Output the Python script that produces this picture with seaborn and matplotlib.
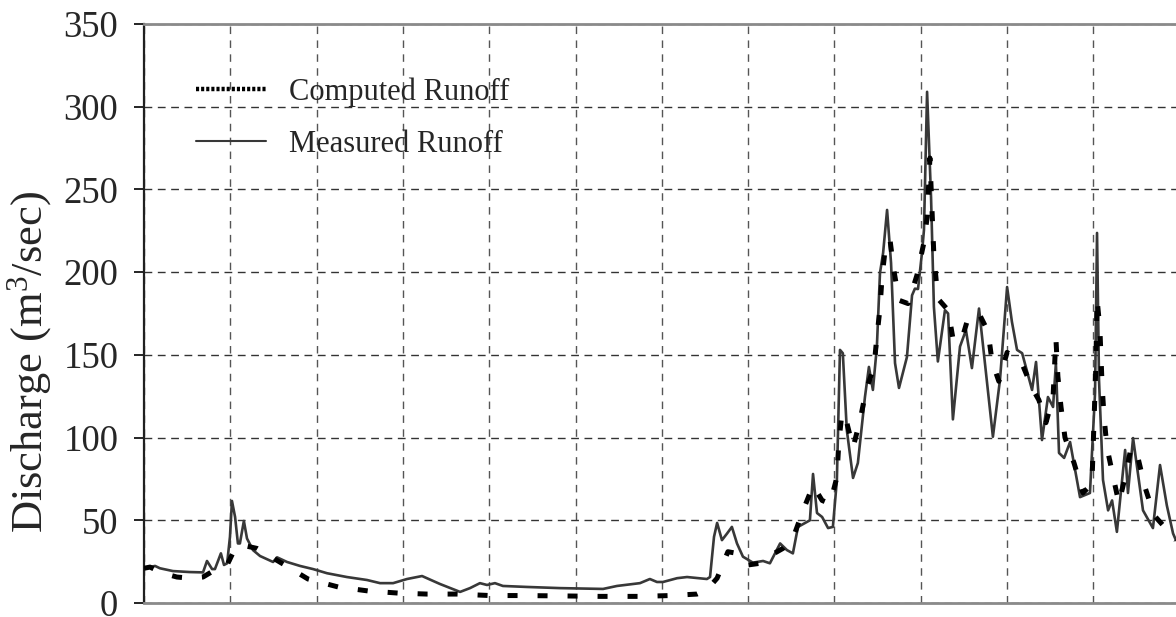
import numpy as np
import pandas as pd
import matplotlib
matplotlib.use("Agg")
import matplotlib.pyplot as plt
from matplotlib.lines import Line2D
import seaborn as sns

# Daily discharge over one hydrological year (day index, m^3/s)
measured_day = [0, 3.9, 5.6, 10.2, 16.2, 20.8, 22.2, 24.0, 25.0, 27.1, 28.2, 29.3, 30.3, 31.0,
                32.1, 33.1, 33.8, 35.2, 36.3, 38.4, 40.9, 45.5, 46.9, 50.4, 55.0, 59.6, 64.5,
                71.5, 78.6, 83.2, 87.8, 92.7, 98.0, 104.3, 111.4, 114.9, 118.4, 120.9, 123.7,
                126.5, 135.0, 146.6, 161.8, 166.7, 174.8, 178.3, 180.8, 182.9, 187.9, 191.4,
                198.4, 199.5, 200.9, 202.0, 203.7, 205.5, 207.2, 209.0, 211.1, 214.6, 218.2,
                220.6, 224.2, 226.6, 228.7, 230.5, 233.7, 234.7, 235.8, 237.2, 239.0, 241.1,
                242.8, 244.2, 245.3, 246.3, 247.7, 249.9, 251.6, 254.1, 255.5, 256.9, 258.3,
                259.4, 260.5, 261.9, 263.3, 264.7, 266.1, 268.9, 270.7, 271.7, 272.8, 274.2,
                274.9, 276.0, 277.4, 278.4, 279.8, 282.3, 283.4, 285.1, 287.6, 289.7, 291.8,
                294.3, 299.2, 301.7, 304.2, 305.9, 307.7, 309.5, 313.0, 314.4, 316.5, 318.6,
                320.4, 321.4, 322.5, 324.3, 326.4, 329.9, 333.4, 335.2, 335.9, 336.6, 338.0,
                339.8, 341.2, 342.9, 345.8, 346.8, 348.6, 352.1, 355.6, 358.1, 360.5, 362.7,
                363.7]
measured_q = [21, 22.4, 21, 19.3, 18.7, 18.5, 25.4, 20.5, 20.5, 30, 23, 24, 40, 61.7,
              52, 36, 36, 49.6, 39, 32, 28.4, 24.8, 27.6, 24.8, 22.4, 20.5, 18,
              15.7, 13.9, 12, 12, 14.5, 16.3, 11.5, 6.7, 9, 12, 10.9, 12,
              10.3, 9.7, 9, 8.5, 10.3, 12, 14.5, 12.7, 12.7, 15, 15.7,
              14.5, 15.7, 40, 48.4, 38, 42, 46, 36, 28, 24.4, 25.4,
              24, 36, 32, 30, 46, 49, 50, 78, 54.4, 52, 45.3,
              46, 74, 153, 151, 104.6, 75.6, 84.6, 124.5, 142.7, 128.8, 154.8,
              199.5, 211.6, 237.6, 205.5, 145, 130, 148.7, 186, 190, 189.8, 211.6,
              225.5, 309, 245, 179, 146, 177, 175, 111, 155, 165, 142,
              178, 100.5, 135, 191, 170, 153, 151, 128.8, 145.7, 98.5, 124.5,
              118.5, 145, 90.7, 87.7, 97.3, 64, 66.5, 127, 223.7, 134.8, 74.4,
              56, 62, 43, 92.5, 66.5, 99.7, 56, 45.3, 83.4, 59, 42,
              38]

computed_day = [0, 2.1, 6.7, 11.6, 16.2, 20.8, 25.0, 29.3, 32.1, 34.5, 39.8, 48.6, 57.8,
                68.4, 78.9, 89.5, 99.7, 110.3, 122.0, 132.5, 146.6, 160.7, 174.8, 185.4,
                194.9, 198.4, 202.0, 205.8, 209.0, 212.9, 217.1, 221.7, 225.2, 228.7,
                232.3, 235.8, 239.0, 241.8, 244.2, 244.9, 246.0, 247.7, 249.9, 252.4,
                254.5, 257.3, 258.3, 259.4, 260.1, 261.2, 262.9, 264.3, 266.1, 269.3,
                272.4, 274.9, 276.0, 277.0, 277.7, 278.4, 279.8, 283.4, 285.1, 288.0,
                290.4, 294.3, 297.5, 298.9, 301.3, 304.2, 309.5, 313.0, 315.4, 317.9,
                320.4, 321.4, 322.1, 323.2, 324.6, 327.8, 330.9, 334.1, 334.8, 335.5,
                335.9, 336.9, 337.7, 338.4, 339.4, 341.5, 343.6, 345.8, 347.9, 350.3,
                352.8, 356.0, 362.3, 363.7]
computed_q = [21, 21.7, 18, 15.7, 15, 15.7, 20, 23, 33, 35, 33, 24, 14.5,
              9.7, 7.3, 6, 5.4, 5.4, 4.5, 4.5, 4.3, 4, 4, 4.5,
              5.4, 8, 15, 31, 30, 23, 24, 29.6, 33, 39,
              56, 71, 62, 60, 76, 97, 115, 109, 94, 110.6,
              128.8, 142.7, 161, 178, 196.5, 213.4, 220, 201, 183, 181,
              198, 218, 233, 269, 239, 210, 184, 177, 160, 158,
              172, 175, 164, 146, 134, 151.5, 144.5, 130, 122.7, 109,
              124.5, 160, 137, 118.5, 100, 84.6, 66.5, 72, 108, 144,
              184, 166, 131, 112, 94, 77, 60.4, 76, 94, 88,
              70, 53, 41, 38]

y_ticks = [0, 50, 100, 150, 200, 250, 300, 350]
month_edges = list(np.arange(0, 13) * 365 / 12)

measured = pd.DataFrame({"day": measured_day, "q": measured_q})
computed = pd.DataFrame({"day": computed_day, "q": computed_q})

sns.set_theme(style="white")
plt.rcParams["font.family"] = ["Liberation Serif", "DejaVu Serif"]
plt.rcParams["mathtext.fontset"] = "custom"
plt.rcParams["mathtext.rm"] = "Liberation Serif"
plt.rcParams["mathtext.it"] = "Liberation Serif:italic"

fig = plt.figure(figsize=(11.76, 6.17), dpi=100)
ax = fig.add_axes([144 / 1176, 1 - 603 / 617, 1035.6 / 1176, 579 / 617])

sns.lineplot(data=measured, x="day", y="q", ax=ax, color="#383838", linewidth=1.9,
             estimator=None, sort=False, zorder=3)
sns.lineplot(data=computed, x="day", y="q", ax=ax, color="black", linewidth=3.6,
             linestyle=(0, (2.0, 4.0)), estimator=None, sort=False, zorder=4)

ax.set_xlim(0, 365)
ax.set_ylim(0, 350)
ax.set_xticks(month_edges)
ax.set_xticklabels([])
ax.set_yticks(y_ticks)
ax.set_yticklabels([str(v) for v in y_ticks])
ax.tick_params(axis="x", length=0)
ax.tick_params(axis="y", direction="out", length=7.5, width=1.2, color="black",
               labelsize=26.5, pad=11, left=True)

ax.xaxis.grid(True, linestyle=(0, (5.4, 4.6)), color="#555555", linewidth=1.0)
ax.yaxis.grid(True, linestyle=(0, (5.6, 4.0)), color="#333333", linewidth=1.0)
ax.set_axisbelow(True)

for side in ("top", "bottom"):
    ax.spines[side].set_color("#8a8a8a")
    ax.spines[side].set_linewidth(2.0)
ax.spines["left"].set_color("#202020")
ax.spines["left"].set_linewidth(1.6)
ax.spines["right"].set_visible(False)

ax.set_xlabel("")
ax.set_ylabel("Discharge (m$^3$/sec)", fontsize=32)
ax.yaxis.set_label_coords((54 - 144) / 1035.6, (603 - 362) / 579)

handles = [
    Line2D([], [], color="black", linewidth=3.2, linestyle=(0, (0.7, 0.45))),
    Line2D([], [], color="#383838", linewidth=1.5),
]
ax.legend(handles, ["Computed Runoff", "Measured Runoff"], loc="upper left",
          bbox_to_anchor=(0.050, 0.908), frameon=False, fontsize=22,
          handlelength=2.3, handletextpad=0.75, labelspacing=0.76,
          borderaxespad=0, borderpad=0)

fig.savefig("out.png", dpi=100)
